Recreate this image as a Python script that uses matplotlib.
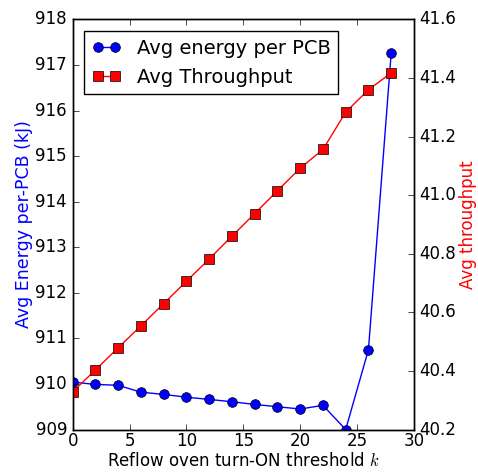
import matplotlib
matplotlib.use("Agg")
import matplotlib.pyplot as plt

# threshold k
k_values = [0, 2, 4, 6, 8, 10, 12, 14, 16, 18, 20, 22, 24, 26, 28]

# average energy per PCB (kJ), left axis
energy = [910.04, 909.99, 909.97, 909.82, 909.77, 909.71, 909.66, 909.61,
          909.55, 909.50, 909.45, 909.53, 909.00, 910.75, 917.26]

# average throughput, right axis
throughput = [40.329, 40.403, 40.479, 40.554, 40.630, 40.706, 40.782, 40.860,
              40.937, 41.015, 41.092, 41.156, 41.283, 41.360, 41.417]

plt.style.use("classic")

fig = plt.figure(figsize=(4.78, 4.72), dpi=100, facecolor="white")
ax1 = fig.add_axes([0.152, 0.090, 0.714, 0.869])
ax2 = ax1.twinx()

l1, = ax1.plot(k_values, energy, "b-o", markersize=7, label="Avg energy per PCB")
l2, = ax2.plot(k_values, throughput, "r-s", markersize=6.5, label="Avg Throughput")

ax1.set_xlim(0, 30)
ax1.set_ylim(909, 918)
ax2.set_ylim(40.2, 41.6)
ax2.set_yticks([40.2, 40.4, 40.6, 40.8, 41.0, 41.2, 41.4, 41.6])
ax1.tick_params(axis="x", pad=2)

ax1.set_xlabel("Reflow oven turn-ON threshold $k$", labelpad=1)
ax1.set_ylabel("Avg Energy per-PCB (kJ)", color="b", fontsize=12.5, labelpad=2)
ax2.set_ylabel("Avg throughput", color="r", labelpad=2)

ax1.legend([l1, l2], [l1.get_label(), l2.get_label()], loc="upper left",
           numpoints=2, fancybox=False, fontsize=14, handlelength=1.5,
           borderaxespad=0.6)

fig.savefig("out.png", dpi=100, facecolor="white")
